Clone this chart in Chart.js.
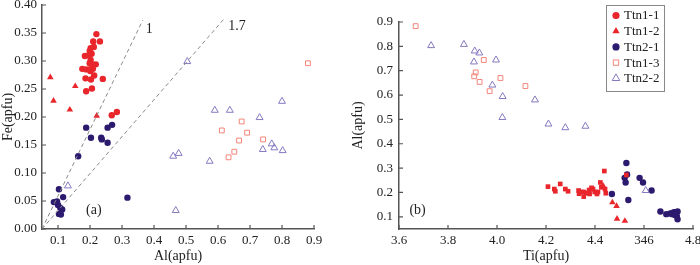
<!DOCTYPE html>
<html>
<head>
<meta charset="utf-8">
<script src="https://cdn.jsdelivr.net/npm/chart.js@4.4.1/dist/chart.umd.min.js"></script>
<style>
  body { margin: 0; background: #fff; width: 700px; height: 265px; position: relative; overflow: hidden; }
  .panel { position: absolute; top: 0; width: 350px; height: 265px; }
</style>
</head>
<body>
<div class="panel" style="left:0"><canvas id="chartA" width="350" height="265"></canvas></div>
<div class="panel" style="left:350px"><canvas id="chartB" width="350" height="265"></canvas></div>
<script>
const seriesNames = ['Ttn1-1', 'Ttn1-2', 'Ttn2-1', 'Ttn1-3', 'Ttn2-2'];

// (a) Al vs Fe, [Al, Fe]
const aTtn11 = [[0.220,0.348],[0.210,0.335],[0.231,0.335],[0.212,0.325],[0.202,0.323],[0.199,0.318],[0.205,0.313],[0.197,0.310],[0.184,0.309],[0.202,0.302],[0.199,0.296],[0.218,0.294],[0.207,0.294],[0.176,0.286],[0.188,0.285],[0.199,0.285],[0.209,0.286],[0.201,0.282],[0.213,0.274],[0.186,0.269],[0.203,0.267],[0.240,0.268],[0.206,0.251],[0.188,0.246],[0.268,0.203],[0.284,0.209]];
const aTtn12 = [[0.076,0.271],[0.086,0.229],[0.154,0.255],[0.137,0.213],[0.221,0.202]];
const aTtn21 = [[0.188,0.181],[0.203,0.163],[0.163,0.130],[0.255,0.181],[0.269,0.186],[0.235,0.163],[0.237,0.160],[0.255,0.154],[0.317,0.056],[0.103,0.071],[0.087,0.048],[0.097,0.049],[0.116,0.057],[0.100,0.043],[0.107,0.038],[0.113,0.035],[0.103,0.027],[0.109,0.026]];
const aTtn13 = [[0.881,0.296],[0.612,0.176],[0.674,0.192],[0.691,0.172],[0.666,0.158],[0.741,0.160],[0.651,0.138],[0.633,0.128]];
const aTtn22 = [[0.504,0.299],[0.131,0.077],[0.590,0.212],[0.637,0.212],[0.800,0.228],[0.730,0.199],[0.460,0.130],[0.477,0.135],[0.574,0.121],[0.740,0.142],[0.768,0.152],[0.776,0.145],[0.802,0.140],[0.468,0.033]];
const ratioLine1 = [[0.05,0],[0.365,0.373]];
const ratioLine17 = [[0.05,0],[0.62,0.376]];
const aXTicks = [0.1,0.2,0.3,0.4,0.5,0.6,0.7,0.8,0.9];
const aYTicks = [0,0.05,0.10,0.15,0.20,0.25,0.30,0.35,0.40];

// (b) Ti vs Al, [Ti, Al]
const bTtn11 = [[4.208,0.224],[4.234,0.214],[4.238,0.205],[4.258,0.235],[4.279,0.214],[4.290,0.205],[4.333,0.208],[4.335,0.195],[4.344,0.202],[4.355,0.202],[4.354,0.183],[4.365,0.197],[4.376,0.210],[4.378,0.194],[4.385,0.214],[4.392,0.214],[4.386,0.219],[4.399,0.202],[4.408,0.194],[4.412,0.202],[4.422,0.241],[4.426,0.221],[4.438,0.288],[4.441,0.214],[4.444,0.197],[4.528,0.272]];
const bTtn12 = [[4.433,0.227],[4.471,0.159],[4.488,0.144],[4.490,0.092],[4.522,0.083]];
const bTtn21 = [[4.469,0.194],[4.528,0.321],[4.531,0.274],[4.521,0.260],[4.525,0.241],[4.536,0.169],[4.582,0.260],[4.596,0.241],[4.631,0.208],[4.667,0.122],[4.691,0.111],[4.707,0.114],[4.718,0.117],[4.724,0.119],[4.731,0.117],[4.737,0.122],[4.734,0.103],[4.737,0.090],[4.715,0.111],[4.726,0.108]];
const bTtn13 = [[3.668,0.883],[3.946,0.744],[3.913,0.693],[3.907,0.677],[3.929,0.654],[4.014,0.670],[3.970,0.616],[4.116,0.637]];
const bTtn22 = [[3.731,0.803],[3.865,0.808],[3.909,0.781],[3.928,0.773],[3.906,0.736],[3.996,0.744],[3.981,0.641],[4.023,0.594],[4.022,0.508],[4.155,0.580],[4.210,0.481],[4.279,0.466],[4.361,0.472],[4.607,0.208]];
const bXTicks = [3.6,3.8,4.0,4.2,4.4,4.6,4.8];
const bXLabels = ['3.6','3.8','4.0','4.2','4.4','346','4.8'];
const bYTicks = [0.1,0.2,0.3,0.4,0.5,0.6,0.7,0.8,0.9];

const red = '#e8262b';
const navy = '#2c1a6e';
const salmon = '#f3857a';
const lavender = '#8678c0';
const axisColor = '#555';
const textColor = '#222';
const serif = 'Liberation Serif';

const styles = {
  'Ttn1-1': { pointStyle: 'circle', pointRadius: 3.2, backgroundColor: red, borderColor: red, borderWidth: 0 },
  'Ttn1-2': { pointStyle: 'triangle', pointRadius: 3.8, backgroundColor: red, borderColor: red, borderWidth: 0 },
  'Ttn2-1': { pointStyle: 'circle', pointRadius: 3.2, backgroundColor: navy, borderColor: navy, borderWidth: 0 },
  'Ttn1-3': { pointStyle: 'rect', pointRadius: 3.4, backgroundColor: 'rgba(255,255,255,0)', borderColor: salmon, borderWidth: 1 },
  'Ttn2-2': { pointStyle: 'triangle', pointRadius: 4, backgroundColor: 'rgba(255,255,255,0)', borderColor: lavender, borderWidth: 1 },
};

const toXY = arr => arr.map(p => ({ x: p[0], y: p[1] }));

function scatterSet(name, pts, extra) {
  return Object.assign({ label: name, data: toXY(pts), pointHoverRadius: 0 }, styles[name], extra || {});
}

function dashLine(pts) {
  return { type: 'line', data: toXY(pts), borderColor: '#8a8a8a', borderWidth: 1, borderDash: [4, 3], pointRadius: 0, fill: false };
}

// inward tick marks on both axes
const innerTicks = {
  id: 'innerTicks',
  afterDraw(chart) {
    const { ctx, chartArea: ca, scales } = chart;
    ctx.save();
    ctx.strokeStyle = axisColor;
    ctx.lineWidth = 1.2;
    ctx.beginPath();
    scales.x.ticks.forEach(t => {
      const px = scales.x.getPixelForValue(t.value);
      ctx.moveTo(px, ca.bottom); ctx.lineTo(px, ca.bottom - 4);
    });
    scales.y.ticks.forEach(t => {
      const py = scales.y.getPixelForValue(t.value);
      ctx.moveTo(ca.left, py); ctx.lineTo(ca.left + 4, py);
    });
    ctx.stroke();
    ctx.restore();
  }
};

// text notes placed in data coordinates
const notes = {
  id: 'notes',
  afterDatasetsDraw(chart, args, opts) {
    const { ctx, scales } = chart;
    ctx.save();
    ctx.fillStyle = '#222';
    ctx.font = '14px "' + serif + '"';
    ctx.textAlign = 'center';
    ctx.textBaseline = 'middle';
    (opts.items || []).forEach(n => {
      ctx.fillText(n.text, scales.x.getPixelForValue(n.x), scales.y.getPixelForValue(n.y));
    });
    ctx.restore();
  }
};

// boxed legend (only in panel b)
const boxLegend = {
  id: 'boxLegend',
  afterDraw(chart, args, opts) {
    if (!opts.show) return;
    const { ctx } = chart;
    const left = 256, top = 5, w = 58, h = 86, rowH = 15.7;
    ctx.save();
    ctx.strokeStyle = '#888';
    ctx.lineWidth = 1;
    ctx.strokeRect(left + 0.5, top + 0.5, w, h);
    ctx.font = '13px "' + serif + '"';
    ctx.textBaseline = 'middle';
    ctx.textAlign = 'left';
    seriesNames.forEach((name, i) => {
      const st = styles[name];
      const y = top + 10.5 + i * rowH;
      ctx.fillStyle = st.backgroundColor;
      ctx.strokeStyle = st.borderColor;
      ctx.lineWidth = st.borderWidth;
      Chart.helpers.drawPoint(ctx, { pointStyle: st.pointStyle, radius: st.pointRadius + 0.4, rotation: 0, borderWidth: st.borderWidth }, left + 10, y);
      ctx.fillStyle = '#222';
      ctx.fillText(name, left + 18, y + 0.5);
    });
    ctx.restore();
  }
};

function axis(o) {
  return {
    type: 'linear',
    min: o.min, max: o.max,
    afterBuildTicks: s => { s.ticks = o.ticks.map(v => ({ value: v })); },
    afterFit: s => {
      if (o.width !== undefined) s.width = o.width;
      if (o.height !== undefined) s.height = o.height;
      s.paddingTop = 0; s.paddingBottom = 0; s.paddingLeft = 0; s.paddingRight = 0;
    },
    grid: { display: false, drawTicks: false },
    border: { display: true, color: axisColor, width: 1.5 },
    ticks: { padding: o.pad, color: textColor, font: { family: serif, size: 13 }, callback: o.fmt },
    title: { display: true, text: o.title, color: textColor, font: { family: serif, size: 14 }, padding: o.titlePad },
  };
}

const common = {
  responsive: false,
  animation: false,
  events: [],
};

new Chart(document.getElementById('chartA'), {
  type: 'scatter',
  data: {
    datasets: [
      dashLine(ratioLine1),
      dashLine(ratioLine17),
      scatterSet('Ttn2-2', aTtn22),
      scatterSet('Ttn1-3', aTtn13),
      scatterSet('Ttn2-1', aTtn21),
      scatterSet('Ttn1-2', aTtn12),
      scatterSet('Ttn1-1', aTtn11),
    ],
  },
  options: Object.assign({}, common, {
    layout: { padding: { left: 0, top: 5, right: 36, bottom: 0 } },
    plugins: {
      legend: { display: false },
      tooltip: { enabled: false },
      notes: { items: [
        { x: 0.385, y: 0.357, text: '1' },
        { x: 0.659, y: 0.362, text: '1.7' },
        { x: 0.212, y: 0.033, text: '(a)' },
      ] },
      boxLegend: { show: false },
    },
    scales: {
      x: axis({ min: 0.05, max: 0.9, ticks: aXTicks, fmt: v => v.toFixed(1), title: 'Al(apfu)', pad: 4, height: 36, titlePad: { top: 0, bottom: 0 } }),
      y: axis({ min: 0, max: 0.4, ticks: aYTicks, fmt: v => v.toFixed(2), title: 'Fe(apfu)', pad: 5, width: 42, titlePad: { top: 0, bottom: 0 } }),
    },
  }),
  plugins: [innerTicks, notes, boxLegend],
});

new Chart(document.getElementById('chartB'), {
  type: 'scatter',
  data: {
    datasets: [
      scatterSet('Ttn2-2', bTtn22),
      scatterSet('Ttn1-3', bTtn13),
      scatterSet('Ttn1-1', bTtn11, { pointStyle: 'rect', pointRadius: 3.3 }),
      scatterSet('Ttn1-2', bTtn12),
      scatterSet('Ttn2-1', bTtn21),
    ],
  },
  options: Object.assign({}, common, {
    layout: { padding: { left: 0, top: 22, right: 7, bottom: 0 } },
    plugins: {
      legend: { display: false },
      tooltip: { enabled: false },
      notes: { items: [{ x: 3.676, y: 0.125, text: '(b)' }] },
      boxLegend: { show: true },
    },
    scales: {
      x: axis({ min: 3.6, max: 4.8, ticks: bXTicks, fmt: (v, i) => bXLabels[i], title: 'Ti(apfu)', pad: 4, height: 36, titlePad: { top: 0, bottom: 0 } }),
      y: axis({ min: 0.05, max: 0.9, ticks: bYTicks, fmt: v => v.toFixed(1), title: 'Al(apfu)', pad: 6, width: 49, titlePad: { top: 0, bottom: 7 } }),
    },
  }),
  plugins: [innerTicks, notes, boxLegend],
});
</script>
</body>
</html>
